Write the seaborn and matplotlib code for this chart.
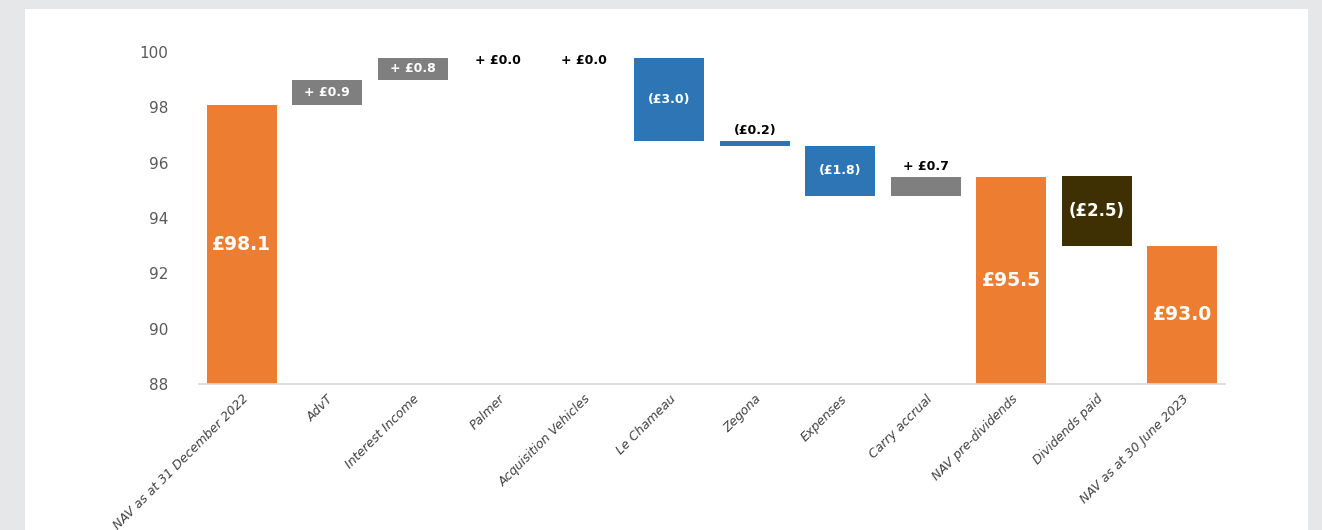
import matplotlib
matplotlib.use("Agg")
import matplotlib.pyplot as plt
import seaborn as sns
import numpy as np
import pandas as pd
from matplotlib.patches import Rectangle

# data
categories = ["NAV as at 31 December 2022", "AdvT", "Interest Income", "Palmer",
              "Acquisition Vehicles", "Le Chameau", "Zegona", "Expenses",
              "Carry accrual", "NAV pre-dividends", "Dividends paid",
              "NAV as at 30 June 2023"]
values = [98.1, 0.9, 0.8, 0.0, 0.0, -3.0, -0.2, -1.8, 0.7, 95.5, -2.5, 93.0]
kinds = ["total", "delta", "delta", "delta", "delta", "delta", "delta", "delta",
         "delta", "total", "dividend", "total"]
labels = ["£98.1", "+ £0.9", "+ £0.8", "+ £0.0", "+ £0.0", "(£3.0)", "(£0.2)",
          "(£1.8)", "+ £0.7", "£95.5", "(£2.5)", "£93.0"]

y_min, y_max = 88, 100

# waterfall: spodek a vyska sloupcu
bottoms, heights = [], []
level = 0.0
for v, k in zip(values, kinds):
    if k == "total":
        bottoms.append(y_min)
        heights.append(v - y_min)
        level = v
    else:
        start = level
        level = level + v
        bottoms.append(min(start, level))
        heights.append(abs(v))

colors = []
for v, k in zip(values, kinds):
    if k == "total":
        colors.append("#ED7D31")
    elif k == "dividend":
        colors.append("#3F3004")
    elif v >= 0:
        colors.append("#7F7F7F")
    else:
        colors.append("#2E75B6")

df = pd.DataFrame({"category": categories, "height": heights, "bottom": bottoms})

sns.set_style("white")
plt.rcParams['font.family'] = ['DejaVu Sans']

fig = plt.figure(figsize=(13.22, 5.30), dpi=100)
fig.patch.set_facecolor("#E6E7E9")
# bily panel
fig.patches.append(Rectangle((25 / 1322, 0), (1308 - 25) / 1322, 1 - 9 / 530,
                             transform=fig.transFigure, facecolor="white",
                             edgecolor="none", zorder=-10))
ax = fig.add_axes([199 / 1322, 1 - 384 / 530, (1225 - 199) / 1322, (384 - 52) / 530])
ax.set_facecolor("none")

sns.barplot(data=df, x="category", y="height", order=categories, bottom=df["bottom"].to_numpy(),
            color="#ED7D31", width=0.82, errorbar=None, ax=ax, linewidth=0)
for patch, c in zip(ax.patches, colors):
    patch.set_facecolor(c)

ax.set_ylim(y_min, y_max)
ax.set_xlim(-0.5, len(categories) - 0.5)

# popisky hodnot
for i, (v, k, lab, b, h) in enumerate(zip(values, kinds, labels, bottoms, heights)):
    if k == "total":
        ax.text(i, b + h / 2, lab, ha="center", va="center", color="white",
                fontsize=13.5, fontweight="bold")
    elif k == "dividend":
        ax.text(i, b + h / 2, lab, ha="center", va="center", color="white",
                fontsize=12, fontweight="bold")
    elif h >= 0.75:
        ax.text(i, b + h / 2, lab, ha="center", va="center", color="white",
                fontsize=9, fontweight="bold")
    elif h == 0:
        ax.text(i, b - 0.1, lab, ha="center", va="center", color="black",
                fontsize=9, fontweight="bold")
    else:
        ax.text(i, b + h + 0.12, lab, ha="center", va="bottom", color="black",
                fontsize=9, fontweight="bold")

# osy
for s in ["top", "right", "left"]:
    ax.spines[s].set_visible(False)
ax.spines["bottom"].set_color("#D9D9D9")
ax.spines["bottom"].set_linewidth(1.2)
ax.set_yticks(np.arange(88, 101, 2))
ax.tick_params(axis="y", length=0, labelsize=11, labelcolor="#595959", pad=22)
ax.set_xticks(range(len(categories)))
ax.set_xticklabels(categories, rotation=45, ha="right", rotation_mode="anchor",
                   fontsize=9, color="#404040", style="italic")
ax.tick_params(axis="x", which="major", length=0, pad=6)
ax.set_xticks(np.arange(-0.5, len(categories), 1), minor=True)
ax.tick_params(axis="x", which="minor", length=4, color="#D9D9D9", width=1)
ax.set_xlabel("")
ax.set_ylabel("")
ax.grid(False)

fig.savefig("out.png", dpi=100, facecolor=fig.get_facecolor())
